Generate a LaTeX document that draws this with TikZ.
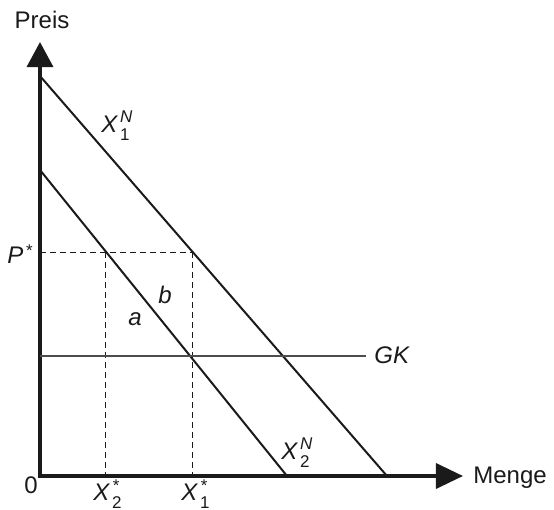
\documentclass[tikz,border=0pt]{standalone}
\usepackage{fontspec}
\setmainfont{Liberation Sans}
\usetikzlibrary{arrows.meta}
\definecolor{gink}{HTML}{1A1A1A}
\definecolor{ggrey}{HTML}{4D4D4D}
\newcommand{\gsmall}{\fontsize{8.5}{9}\selectfont}
% letter with a raised and a lowered index
\newcommand{\gvar}[4][5pt]{\textit{#2}\kern1pt\makebox[0pt][l]{\raisebox{#1}{\gsmall\itshape #3}}\raisebox{-4pt}{\gsmall #4}}
\tikzset{
  gaxis/.style={{Triangle[length=12.5pt,width=13pt]}-{Triangle[length=13.5pt,width=12.5pt]},
    draw=gink, line width=1.75pt},
  gcurve/.style={draw=gink, line width=1pt},
  gguide/.style={draw=gink, line width=0.5pt, dash pattern=on 3pt off 2pt},
  glevel/.style={draw=ggrey, line width=0.6pt},
  glabel/.style={text=gink, font=\fontsize{12}{14}\selectfont, inner sep=0pt},
}

\begin{document}
\begin{tikzpicture}[x=0.5pt,y=-0.5pt]

\useasboundingbox (0,0) rectangle (554,510);

% axes
\coordinate (ytop) at (40,42);
\coordinate (xend) at (463,476);
\draw[gaxis] (ytop) |- (xend);

% demand lines
\coordinate (d1a) at (40,76);
\coordinate (d1b) at (387,476);
\coordinate (d2a) at (40,170);
\coordinate (d2b) at (287,476);
\draw[gcurve] (d1a) -- (d1b);
\draw[gcurve] (d2a) -- (d2b);

% price level and quantities
\coordinate (pstar) at (40,252);
\coordinate (e2) at (106,252);
\coordinate (e1) at (193,252);
\coordinate (q2) at (106,476);
\coordinate (q1) at (193,476);
\draw[gguide] (pstar) -- (e1);
\draw[gguide] (e2) -- (q2);
\draw[gguide] (e1) -- (q1);

% cost level
\coordinate (gka) at (40,356);
\coordinate (gkb) at (366,356);
\draw[glevel] (gka) -- (gkb);

% labels
\node[glabel,anchor=base] (preis) at (42,28) {Preis};
\node[glabel,anchor=base west] (menge) at (473,483) {Menge};
\node[glabel,anchor=base] (zero) at (31,493) {0};
\node[glabel,anchor=base west] (plab) at (7,263) {\gvar[3.5pt]{P}{*}{}};
\node[glabel,anchor=base] (lb) at (165,303) {\textit{b}};
\node[glabel,anchor=base] (la) at (135,325) {\textit{a}};
\node[glabel,anchor=base west] (gk) at (374,363) {\textit{GK}};
\node[glabel,anchor=base west] (x1n) at (101,132) {\gvar{X}{N}{1}};
\node[glabel,anchor=base west] (x2n) at (281,459) {\gvar{X}{N}{2}};
\node[glabel,anchor=base west] (x2s) at (93,500) {\gvar[4.5pt]{X}{*}{2}};
\node[glabel,anchor=base west] (x1s) at (181,500) {\gvar[4.5pt]{X}{*}{1}};

\end{tikzpicture}
\end{document}
